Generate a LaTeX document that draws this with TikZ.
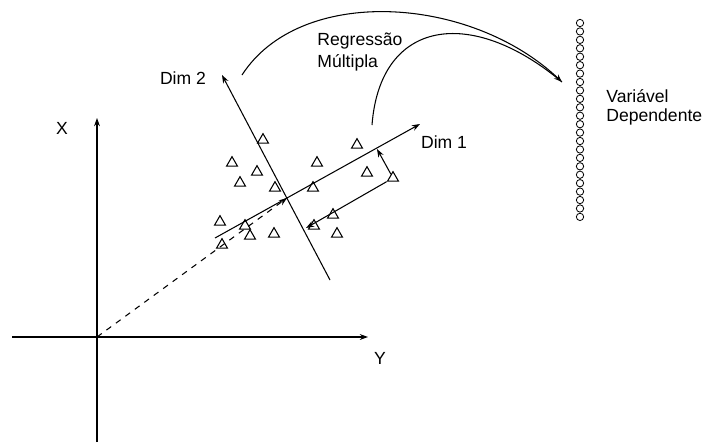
\documentclass[tikz,border=0pt]{standalone}
\usepackage{fontspec}
\setmainfont{Liberation Sans}
\usetikzlibrary{shapes.geometric,arrows.meta}

\begin{document}
\begin{tikzpicture}[>={Stealth[length=7pt,width=5pt]},x=0.03cm,y=-0.03cm,line width=0.9pt,
  tri/.style={draw,regular polygon,regular polygon sides=3,minimum size=0.38cm,inner sep=0pt},
  obs/.style={draw,circle,minimum size=0.22cm,inner sep=0pt,line width=0.7pt},
  lab/.style={font=\fontsize{15}{18}\selectfont}]

\useasboundingbox (0,0) rectangle (709,442);

% 坐标轴 X, Y
\coordinate (O) at (97,337);
\coordinate (xtop) at (97,118);
\coordinate (xbot) at (97,442);
\coordinate (yleft) at (12,337);
\coordinate (yright) at (368,337);
\draw[->] (xbot) -- (xtop);
\draw[->] (yleft) -- (yright);
\node[lab] (labX) at (62,128) {X};
\node[lab] (labY) at (380,358) {Y};

% 数据点（三角形）
\foreach \p [count=\i] in {(263,140),(232,163),(257,172),(240,183),(275,188),
    (317,163),(357,145),(367,173),(393,178),(313,188),(333,215),(337,234),
    (220,222),(245,226),(250,236),(274,234),(222,245),(314,226)}
  \node[tri] (t\i) at \p {};

% 主成分轴 Dim 1, Dim 2
\coordinate (C) at (287,198);
\coordinate (d1a) at (215,238);
\coordinate (d1b) at (420,124);
\coordinate (d2a) at (222,75);
\coordinate (d2b) at (330,280);
\draw[->] (d1a) -- (d1b);
\draw[->] (d2b) -- (d2a);
\draw[->,dashed,dash pattern=on 5pt off 5pt] (O) -- (C);
\node[lab] (dim1) at (444,142) {Dim 1};
\node[lab] (dim2) at (183,78) {Dim 2};

% 投影
\coordinate (F1) at (377,149);
\coordinate (F2) at (306,228);
\draw[->] (t9) -- (F1);
\draw[->] (t9) -- (F2);

% 回归箭头
\coordinate (r1) at (242,75);
\coordinate (r2) at (372,125);
\coordinate (tip) at (562,82);
\draw[->] (r1) .. controls (300,-15) and (470,-5) .. (tip);
\draw (r2) .. controls (380,20) and (470,5) .. (tip);
\node[lab,align=left,anchor=west,font=\fontsize{15}{18}\selectfont] (reg) at (313,52) {Regressão\\Múltipla};

% 因变量
\foreach \i in {0,...,23}
  \node[obs] (c\i) at (580,{23+8.43*\i}) {};
\node[lab,align=left,anchor=west,font=\fontsize{15}{16}\selectfont] (dep) at (602,107) {Variável\\Dependente};

\end{tikzpicture}
\end{document}
